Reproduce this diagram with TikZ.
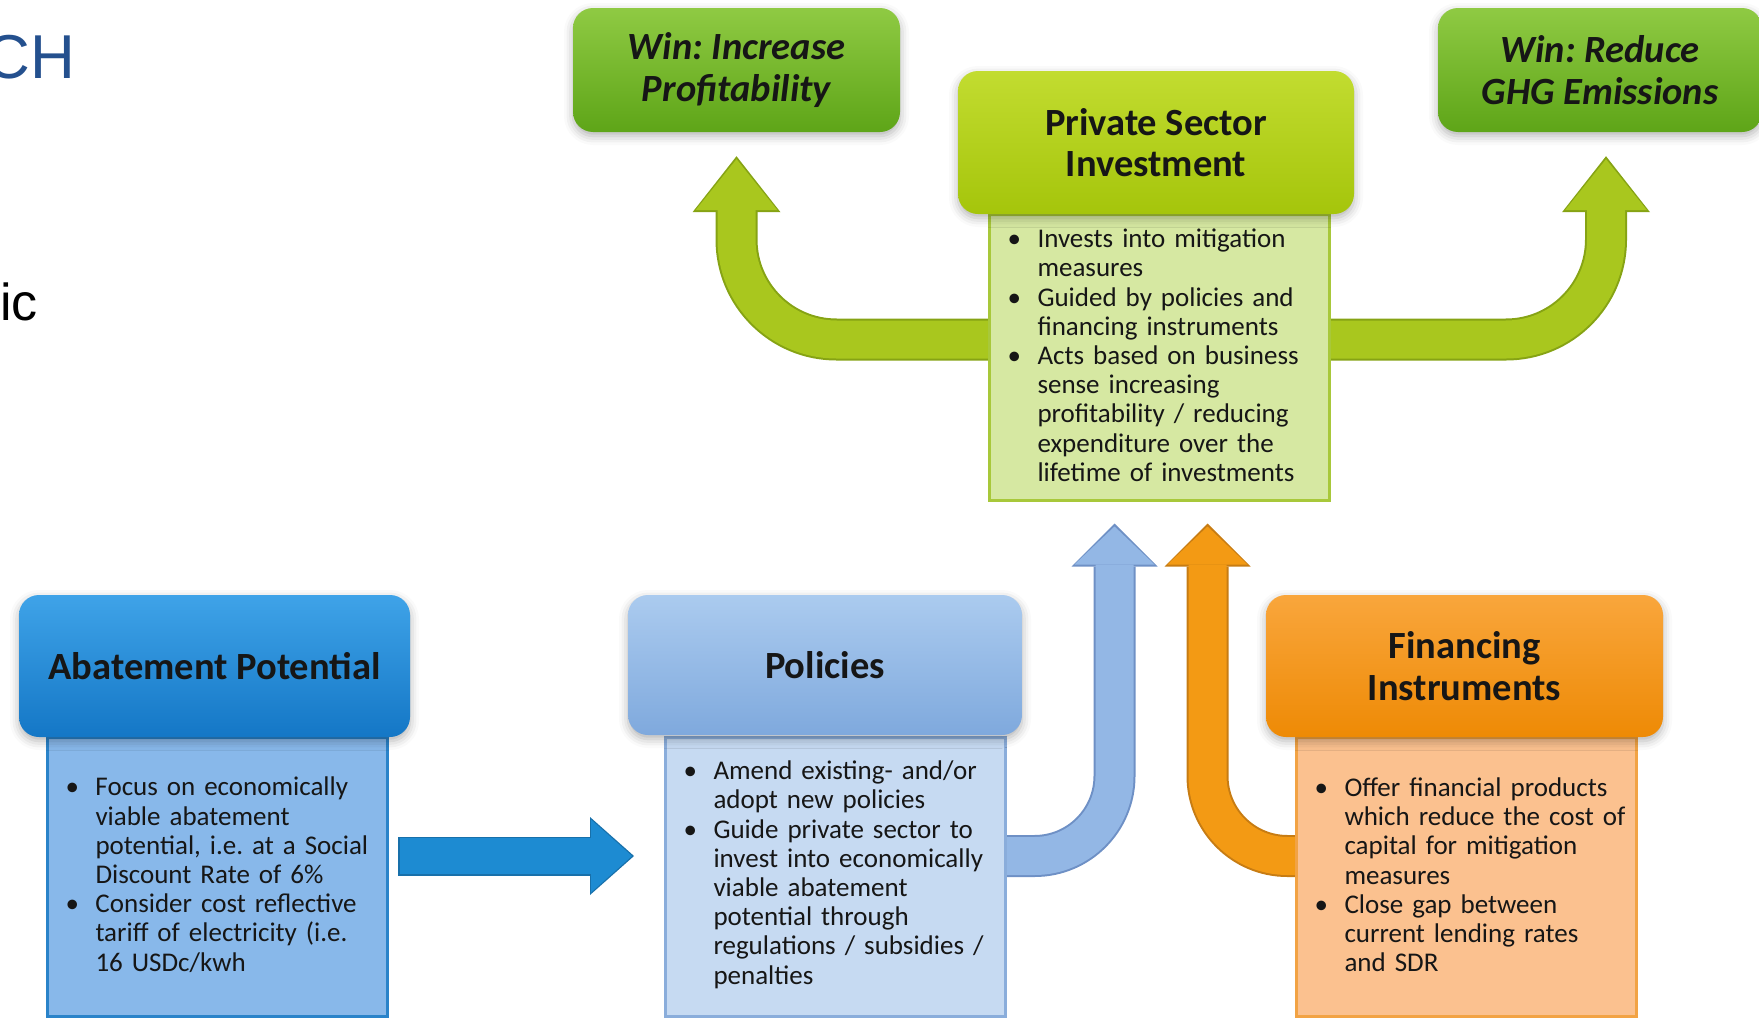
\documentclass[tikz,border=0pt]{standalone}
\usepackage{fontspec}
\setmainfont{Carlito}
\newfontfamily\slidefont{Liberation Sans}
\usetikzlibrary{arrows.meta,backgrounds,shadows.blur}
\frenchspacing

\definecolor{titleblue}{HTML}{24508E}
\definecolor{ink}{HTML}{161616}
\definecolor{abtop}{HTML}{3FA3E8}
\definecolor{abbot}{HTML}{1477C6}
\definecolor{abbodyc}{HTML}{88B8EA}
\definecolor{abedge}{HTML}{2A83C9}
\definecolor{poltop}{HTML}{ABCBEF}
\definecolor{polbot}{HTML}{7FA9DD}
\definecolor{polbodyc}{HTML}{C6DAF2}
\definecolor{poledge}{HTML}{8AADDB}
\definecolor{fintop}{HTML}{F9A63C}
\definecolor{finbot}{HTML}{EE8A05}
\definecolor{finbodyc}{HTML}{FBC18F}
\definecolor{finedge}{HTML}{F2A344}
\definecolor{psitop}{HTML}{C2DC30}
\definecolor{psibot}{HTML}{A5C50B}
\definecolor{psibodyc}{HTML}{D6E8A2}
\definecolor{psiedge}{HTML}{A8C83A}
\definecolor{wintop}{HTML}{8FCA43}
\definecolor{winbot}{HTML}{5EA518}
\definecolor{garrow}{HTML}{A9C71E}
\definecolor{garrowedge}{HTML}{86A314}
\definecolor{barrow}{HTML}{93B7E5}
\definecolor{barrowedge}{HTML}{6E90C5}
\definecolor{oarrow}{HTML}{F39A14}
\definecolor{oarrowedge}{HTML}{C77C13}
\definecolor{darrow}{HTML}{1D8BD2}
\definecolor{darrowedge}{HTML}{1870AA}

\newcommand{\headfont}{\fontsize{38.5}{41.5}\selectfont\bfseries}
\newcommand{\bodyfont}{\fontsize{27}{29.2}\selectfont}
% bullet item with hanging indent; lines inside are split with \newline
\newcommand{\bitem}[1]{\par\noindent\hangindent=37pt\hangafter=1\makebox[37pt][l]{\hspace{7pt}\textbullet}#1\par}
% extra room under the list, lifts the text a little
\newcommand{\bodyend}{\par\vspace{14pt}}

\begin{document}
\begin{tikzpicture}[x=1pt, y=-1pt,
  head/.style={rounded corners=20pt, align=center, font=\headfont, text=ink,
    blur shadow={shadow xshift=0pt, shadow yshift=-4pt, shadow blur radius=9pt, shadow opacity=30}},
  win/.style={head, font=\headfont\itshape, minimum height=124pt, top color=wintop, bottom color=winbot},
  body/.style={draw, line width=3pt, text width=318pt, inner xsep=11pt, minimum height=279pt,
    align=left, font=\bodyfont, text=ink, execute at end node=\bodyend},
  fatout/.style={line width=42pt, -{Triangle[length=56pt, width=88pt, line width=0pt]}},
  fatin/.style={line width=38pt, shorten >=3pt, -{Triangle[length=51pt, width=82pt, line width=0pt]}},
  upout/.style={line width=42pt, -{Triangle[length=43pt, width=86pt, line width=0pt]}},
  upin/.style={line width=38pt, shorten >=3pt, -{Triangle[length=38pt, width=80pt, line width=0pt]}}]
  \useasboundingbox (0,0) rectangle (1759,1020);

  % what is left of the slide text
  \node[anchor=base east, inner sep=0pt, font=\slidefont\fontsize{62}{62}\selectfont, text=titleblue] (title) at (75,78) {CH};
  \node[anchor=base west, inner sep=0pt, font=\slidefont\fontsize{52}{52}\selectfont, text=black] (subtitle) at (0,320) {ic};

  % text boxes
  \node[body, draw=abedge, fill=abbodyc] (abbody) at (217.5,876.5) {%
    \bitem{Focus on economically\newline viable abatement\newline potential, i.e. at a Social\newline Discount Rate of 6\%}
    \bitem{Consider cost reflective\newline tariff of electricity (i.e.\newline 16 USDc/kwh}};
  \node[body, draw=poledge, fill=polbodyc] (polbody) at (835.5,876.5) {%
    \bitem{Amend existing- and/or\newline adopt new policies}
    \bitem{Guide private sector to\newline invest into economically\newline viable abatement\newline potential through\newline regulations / subsidies /\newline penalties}};
  \node[body, draw=finedge, fill=finbodyc] (finbody) at (1466.5,876.5) {%
    \bitem{Offer financial products\newline which reduce the cost of\newline capital for mitigation\newline measures}
    \bitem{Close gap between\newline current lending rates\newline and SDR}};
  \node[body, draw=psiedge, fill=psibodyc, minimum height=286pt] (psibody) at (1159.5,357) {%
    \bitem{Invests into mitigation\newline measures}
    \bitem{Guided by policies and\newline financing instruments}
    \bitem{Acts based on business\newline sense increasing\newline profitability / reducing\newline expenditure over the\newline lifetime of investments}};

  % headers
  \node[head, minimum width=391pt, minimum height=142pt, top color=abtop, bottom color=abbot] (abhead) at (214.5,666) {Abatement Potential};
  \node[head, minimum width=394pt, minimum height=140pt, top color=poltop, bottom color=polbot] (polhead) at (825,665) {Policies};
  \node[head, minimum width=397pt, minimum height=142pt, top color=fintop, bottom color=finbot] (finhead) at (1464.5,666) {Financing\\Instruments};
  \node[head, minimum width=396pt, minimum height=143pt, top color=psitop, bottom color=psibot] (psihead) at (1156,142.5) {Private Sector\\Investment};
  \node[win, minimum width=327pt] (winprofit) at (736.5,70) {Win: Increase\\Profitability};
  \node[win, minimum width=324pt] (winghg) at (1600,70) {Win: Reduce\\GHG Emissions};

  % arrows behind the boxes
  \begin{scope}[on background layer]
    \draw[fatout, garrowedge, rounded corners=100pt] ([yshift=17.5pt]psibody.center) -| ([yshift=-24pt]winprofit.south);
    \draw[fatin, garrow, rounded corners=100pt] ([yshift=17.5pt]psibody.center) -| ([yshift=-24pt]winprofit.south);
    \draw[fatout, garrowedge, rounded corners=100pt] ([yshift=17.5pt]psibody.center) -| ([xshift=6pt,yshift=-24pt]winghg.south);
    \draw[fatin, garrow, rounded corners=100pt] ([yshift=17.5pt]psibody.center) -| ([xshift=6pt,yshift=-24pt]winghg.south);

    \draw[upout, barrowedge, rounded corners=80pt] ([yshift=20.5pt]polbody.center) -| ([xshift=-45pt,yshift=-22pt]psibody.south);
    \draw[upin, barrow, rounded corners=80pt] ([yshift=20.5pt]polbody.center) -| ([xshift=-45pt,yshift=-22pt]psibody.south);
    \draw[upout, oarrowedge, rounded corners=80pt] ([yshift=20.5pt]finbody.center) -| ([xshift=48pt,yshift=-22pt]psibody.south);
    \draw[upin, oarrow, rounded corners=80pt] ([yshift=20.5pt]finbody.center) -| ([xshift=48pt,yshift=-22pt]psibody.south);

    \draw[darrowedge, line width=39pt, -{Triangle[length=44pt, width=78pt, line width=0pt]}] ([xshift=9pt,yshift=20.5pt]abbody.east) -- ([xshift=-30pt,yshift=20.5pt]polbody.west);
    \draw[darrow, line width=36pt, shorten >=2pt, -{Triangle[length=41pt, width=73pt, line width=0pt]}] ([xshift=10.5pt,yshift=20.5pt]abbody.east) -- ([xshift=-30pt,yshift=20.5pt]polbody.west);
  \end{scope}
\end{tikzpicture}
\end{document}
